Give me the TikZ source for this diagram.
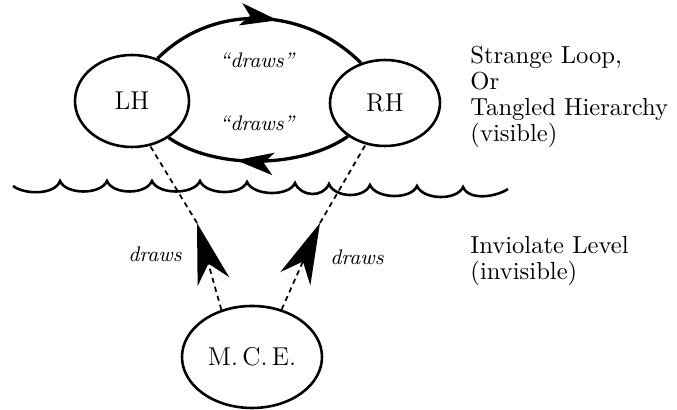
\documentclass[tikz,border=0pt]{standalone}
\usetikzlibrary{arrows.meta,shapes.geometric,decorations.markings}

\begin{document}
\begin{tikzpicture}[x=0.015cm, y=-0.015cm,
  hand/.style={ellipse, draw, line width=1.1pt, inner sep=0pt, font=\fontsize{11}{12}\selectfont},
  loopline/.style={line width=1.4pt, postaction={decorate}},
  seen/.style={line width=0.75pt, dash pattern=on 2.2pt off 1.8pt},
  bigtip/.style={-{Stealth[length=26pt,width=14pt,inset=8pt]}},
  looptip/.style={decoration={markings, mark=at position #1 with {\arrow{Stealth[length=16pt,width=9.5pt,inset=4pt]}}}},
  tag/.style={font=\fontsize{9}{10}\selectfont\itshape},
  note/.style={align=left, inner sep=0pt, anchor=base west}]
\useasboundingbox (0,0) rectangle (677,410);

\node[hand, minimum width=1.71cm, minimum height=1.38cm] (LH) at (132,101) {LH};
\node[hand, minimum width=1.65cm, minimum height=1.29cm] (RH) at (385,103) {RH};
\node[hand, minimum width=2.1cm, minimum height=1.53cm] (MCE) at (252,357) {M.\,C.\,E.};

% the strange loop
\draw[loopline, looptip=0.58] (LH.59) to[out=45,in=135] (RH.121);
\draw[loopline, looptip=0.62] (RH.-138) to[out=-145,in=-35,looseness=0.8] (LH.-45);
\node[tag] (topdraws) at (257,60) {``draws''};
\node[tag] (lowdraws) at (257,123) {``draws''};

% the water line
\draw[line width=1.1pt] (13,186) .. controls +(12,9) and +(-5,14) .. (60,181)
  \foreach \cx/\cy in {107/181,152/181,200/181,247/182,295/183,329/184,370/185,417/186,463/187}
    { .. controls +(6,14) and +(-6,14) .. (\cx,\cy) }
  .. controls +(6,14) and +(-12,8) .. (508,189);

% hidden drawing from below
\coordinate (tipL) at (197,223);
\coordinate (tipR) at (320,223);
\draw[seen, bigtip] (MCE.123) -- (tipL);
\draw[seen] (tipL) -- (LH.-68);
\draw[seen, bigtip] (MCE.58) -- (tipR);
\draw[seen] (tipR) -- (RH.-115);
\node[tag] (leftdraws) at (155,254) {draws};
\node[tag] (rightdraws) at (357,257) {draws};

\node[note, font=\fontsize{10.5}{11.1}\selectfont] (visible) at (470,142) {Strange Loop,\\Or\\Tangled Hierarchy\\(visible)};
\node[note, font=\fontsize{10.5}{11.5}\selectfont] (invisible) at (470,280) {Inviolate Level\\(invisible)};
\end{tikzpicture}
\end{document}
